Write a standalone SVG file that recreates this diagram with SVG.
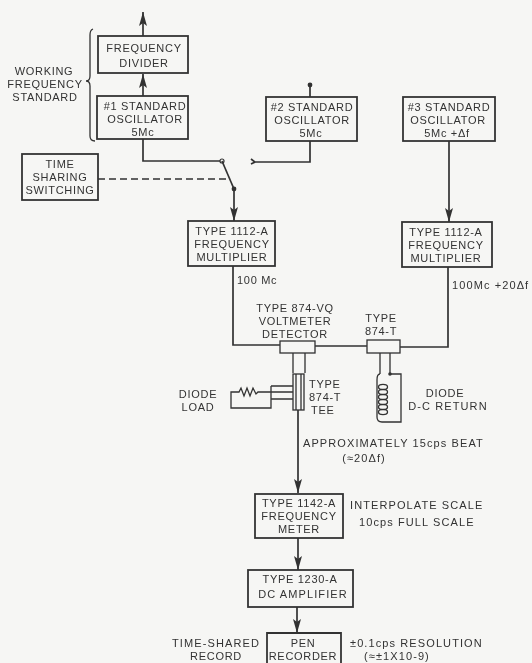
<svg xmlns="http://www.w3.org/2000/svg" width="532" height="663" viewBox="0 0 532 663">
<defs>
<style>
text{font-family:"Liberation Sans",Arial,sans-serif;font-size:11px;fill:#333;text-anchor:middle;letter-spacing:.7px}
.s{text-anchor:start}
.w{letter-spacing:1.1px}
.b{fill:none;stroke:#333;stroke-width:1.8}
.l{fill:none;stroke:#333;stroke-width:1.7}
.t{fill:none;stroke:#333;stroke-width:1.3}
.k{fill:#333;stroke:none}
</style>
<marker id="h" viewBox="0 0 14 8" refX="14" refY="4" markerWidth="14" markerHeight="8" markerUnits="userSpaceOnUse" orient="auto"><path d="M0 0 L14 4 L0 8 L3 4Z" fill="#333"/></marker>
<filter id="f" x="-2%" y="-2%" width="104%" height="104%"><feGaussianBlur stdDeviation=".5"/></filter>
</defs>
<rect width="532" height="663" fill="#f6f6f4"/>
<g filter="url(#f)">
<g id="connectors">
<path class="l" d="M143 36V12" marker-end="url(#h)"/>
<path class="l" d="M143 96V74" marker-end="url(#h)"/>
<path class="l" d="M143 139V161H220"/>
<path class="l" d="M222 161L234 189"/>
<path class="l" d="M234 189V221" marker-end="url(#h)"/>
<circle cx="222" cy="161" r="2" fill="none" stroke="#333" stroke-width="1.2"/>
<circle cx="234" cy="189" r="2.4" class="k"/>
<path class="l" d="M251 159L255 162L251 164M255 162H310V141M310 97V85"/>
<circle cx="310" cy="85" r="2.4" class="k"/>
<path class="l" d="M98 179H228" stroke-dasharray="7 4"/>
<path class="l" d="M449 141V222" marker-end="url(#h)"/>
<path class="l" d="M233 266V345H280M315 346H367M400 347H448V267"/>
<path class="l" d="M298 410V493" marker-end="url(#h)"/>
<path class="l" d="M298 538V570" marker-end="url(#h)"/>
<path class="l" d="M297 607V633" marker-end="url(#h)"/>
<path class="t" d="M93 29Q90 30 90 35V76Q90 81 86 81Q90 81 90 86V136Q90 141 95 141"/>
</g>
<g id="frequency-divider"><rect class="b" x="98" y="36" width="90" height="37"/><text x="144" y="52">FREQUENCY</text><text x="144" y="67">DIVIDER</text></g>
<g id="oscillator-1"><rect class="b" x="97" y="96" width="91" height="43"/><text x="145" y="110">#1 STANDARD</text><text x="145" y="123">OSCILLATOR</text><text x="143" y="136">5Mc</text></g>
<g id="working-standard"><text x="44" y="75">WORKING</text><text x="45" y="88">FREQUENCY</text><text x="45" y="101">STANDARD</text></g>
<g id="time-sharing"><rect class="b" x="22" y="154" width="76" height="46"/><text x="60" y="168">TIME</text><text x="60" y="181">SHARING</text><text x="60" y="194">SWITCHING</text></g>
<g id="oscillator-2"><rect class="b" x="266" y="97" width="91" height="44"/><text x="312" y="111">#2 STANDARD</text><text x="312" y="124">OSCILLATOR</text><text x="311" y="137">5Mc</text></g>
<g id="oscillator-3"><rect class="b" x="403" y="97" width="92" height="44"/><text x="449" y="111">#3 STANDARD</text><text x="448" y="124">OSCILLATOR</text><text x="447" y="137">5Mc +Δf</text></g>
<g id="multiplier-1"><rect class="b" x="188" y="221" width="87" height="45"/><text x="232" y="235">TYPE 1112-A</text><text x="232" y="248">FREQUENCY</text><text x="232" y="261">MULTIPLIER</text></g>
<g id="multiplier-2"><rect class="b" x="402" y="222" width="90" height="45"/><text x="446" y="236">TYPE 1112-A</text><text x="446" y="249">FREQUENCY</text><text x="446" y="262">MULTIPLIER</text></g>
<g id="labels-mid"><text class="s" x="237" y="284">100 Mc</text><text class="s w" x="452" y="289">100Mc +20Δf</text></g>
<g id="voltmeter-detector"><text x="295" y="312">TYPE 874-VQ</text><text x="295" y="325">VOLTMETER</text><text x="295" y="338">DETECTOR</text>
<rect class="t" x="280" y="341" width="35" height="12"/><path class="t" d="M293 353V373M305 353V373"/></g>
<g id="tee-874-t"><text class="s" x="309" y="388">TYPE</text><text class="s" x="309" y="401">874-T</text><text class="s" x="311" y="414">TEE</text>
<rect class="t" x="293" y="374" width="11" height="36"/><path class="t" d="M296 374V410M301 374V410M271 386H293M271 392H293M271 399H293M271 386V408H231V392H239L241 388L244 396L247 388L250 396L253 388L256 394L258 392H271"/></g>
<g id="diode-load"><text x="198" y="398">DIODE</text><text x="198" y="411">LOAD</text></g>
<g id="tee-874-t-2"><text x="381" y="322">TYPE</text><text x="381" y="335">874-T</text>
<rect class="t" x="367" y="340" width="33" height="13"/><path class="t" d="M380 353V374M390 353V374"/>
<circle cx="390" cy="374" r="1.8" class="k"/>
<path class="t" d="M380 374Q377 374 377 380V417Q377 422 382 422H401V374H390"/>
<g class="t"><ellipse cx="383" cy="387" rx="4.5" ry="2.6"/><ellipse cx="383" cy="392" rx="4.5" ry="2.6"/><ellipse cx="383" cy="397" rx="4.5" ry="2.6"/><ellipse cx="383" cy="402" rx="4.5" ry="2.6"/><ellipse cx="383" cy="407" rx="4.5" ry="2.6"/><ellipse cx="383" cy="412" rx="4.5" ry="2.6"/></g></g>
<g id="diode-return"><text x="445" y="397">DIODE</text><text class="w" x="448" y="410">D-C RETURN</text></g>
<g id="beat-label"><text class="s w" x="303" y="447">APPROXIMATELY 15cps BEAT</text><text class="w" x="364" y="462">(≈20Δf)</text></g>
<g id="frequency-meter"><rect class="b" x="255" y="494" width="88" height="44"/><text x="299" y="507">TYPE 1142-A</text><text x="299" y="520">FREQUENCY</text><text x="299" y="533">METER</text></g>
<g id="scale-label"><text class="s w" x="350" y="509">INTERPOLATE SCALE</text><text class="s w" x="359" y="526">10cps FULL SCALE</text></g>
<g id="dc-amplifier"><rect class="b" x="248" y="570" width="105" height="37"/><text x="300" y="583">TYPE 1230-A</text><text class="w" x="303" y="598">DC AMPLIFIER</text></g>
<g id="pen-recorder"><path class="b" d="M267 664V633H341V664"/><text x="303" y="647">PEN</text><text x="303" y="660">RECORDER</text></g>
<g id="record-labels"><text class="w" x="216" y="647">TIME-SHARED</text><text x="216" y="660">RECORD</text><text class="s w" x="350" y="647">±0.1cps RESOLUTION</text><text class="s w" x="364" y="660">(≈±1X10-9)</text></g>
</g>
</svg>
